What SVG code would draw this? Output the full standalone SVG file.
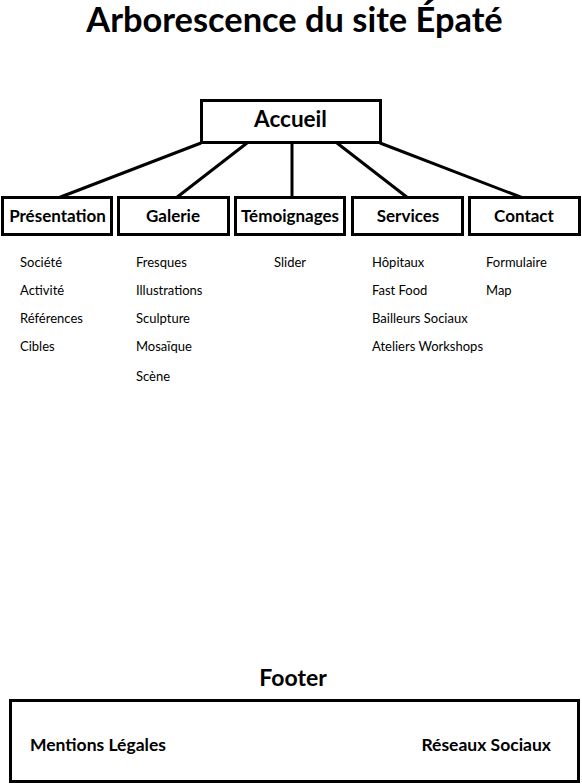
<svg xmlns="http://www.w3.org/2000/svg" width="582" height="784" viewBox="0 0 582 784">
<style>
text{font-family:Lato,"Liberation Sans",sans-serif;fill:#000}
.box{fill:#fff;stroke:#000;stroke-width:3}
.h{font-weight:bold;font-size:17px;text-anchor:middle}
.s{font-size:13px}
.f{font-weight:bold;font-size:17.5px}
.c line{stroke:#000;stroke-width:3}
</style>
<rect width="582" height="784" fill="#fff"/>
<text x="294.5" y="32" style="font-size:34.4px;font-weight:bold" text-anchor="middle">Arborescence du site Épaté</text>
<g class="c" id="connectors">
<line x1="201" y1="143" x2="58" y2="198"/>
<line x1="247" y1="143" x2="176" y2="198"/>
<line x1="292" y1="143" x2="292" y2="198"/>
<line x1="337" y1="143" x2="408" y2="198"/>
<line x1="380" y1="143" x2="523" y2="198"/>
</g>
<g id="accueil"><rect class="box" x="201.5" y="100.5" width="179" height="42"/><text x="290.5" y="127" class="h" style="font-size:22.5px">Accueil</text></g>
<g id="presentation"><rect class="box" x="2.5" y="197.5" width="109" height="37"/><text x="57.5" y="222" class="h">Présentation</text>
<text class="s" x="20" y="267">Société</text><text class="s" x="20" y="295">Activité</text><text class="s" x="20" y="323">Références</text><text class="s" x="20" y="351">Cibles</text></g>
<g id="galerie"><rect class="box" x="118.5" y="197.5" width="110" height="37"/><text x="173" y="222" class="h">Galerie</text>
<text class="s" x="136" y="267">Fresques</text><text class="s" x="136" y="295">Illustrations</text><text class="s" x="136" y="323">Sculpture</text><text class="s" x="136" y="351">Mosaïque</text><text class="s" x="136" y="381">Scène</text></g>
<g id="temoignages"><rect class="box" x="235.5" y="197.5" width="109" height="37"/><text x="290" y="222" class="h">Témoignages</text>
<text class="s" x="274" y="267">Slider</text></g>
<g id="services"><rect class="box" x="352.5" y="197.5" width="110" height="37"/><text x="408" y="222" class="h">Services</text>
<text class="s" x="372" y="267">Hôpitaux</text><text class="s" x="372" y="295">Fast Food</text><text class="s" x="372" y="323">Bailleurs Sociaux</text><text class="s" x="372" y="351">Ateliers Workshops</text></g>
<g id="contact"><rect class="box" x="469.5" y="197.5" width="110" height="37"/><text x="524" y="222" class="h">Contact</text>
<text class="s" x="486" y="267">Formulaire</text><text class="s" x="486" y="295">Map</text></g>
<g id="footer"><text x="293" y="686" style="font-size:23px;font-weight:bold" text-anchor="middle">Footer</text>
<rect class="box" x="10.5" y="700.5" width="568" height="81"/>
<text class="f" x="30" y="751">Mentions Légales</text>
<text class="f" x="551" y="751" text-anchor="end">Réseaux Sociaux</text></g>
</svg>
